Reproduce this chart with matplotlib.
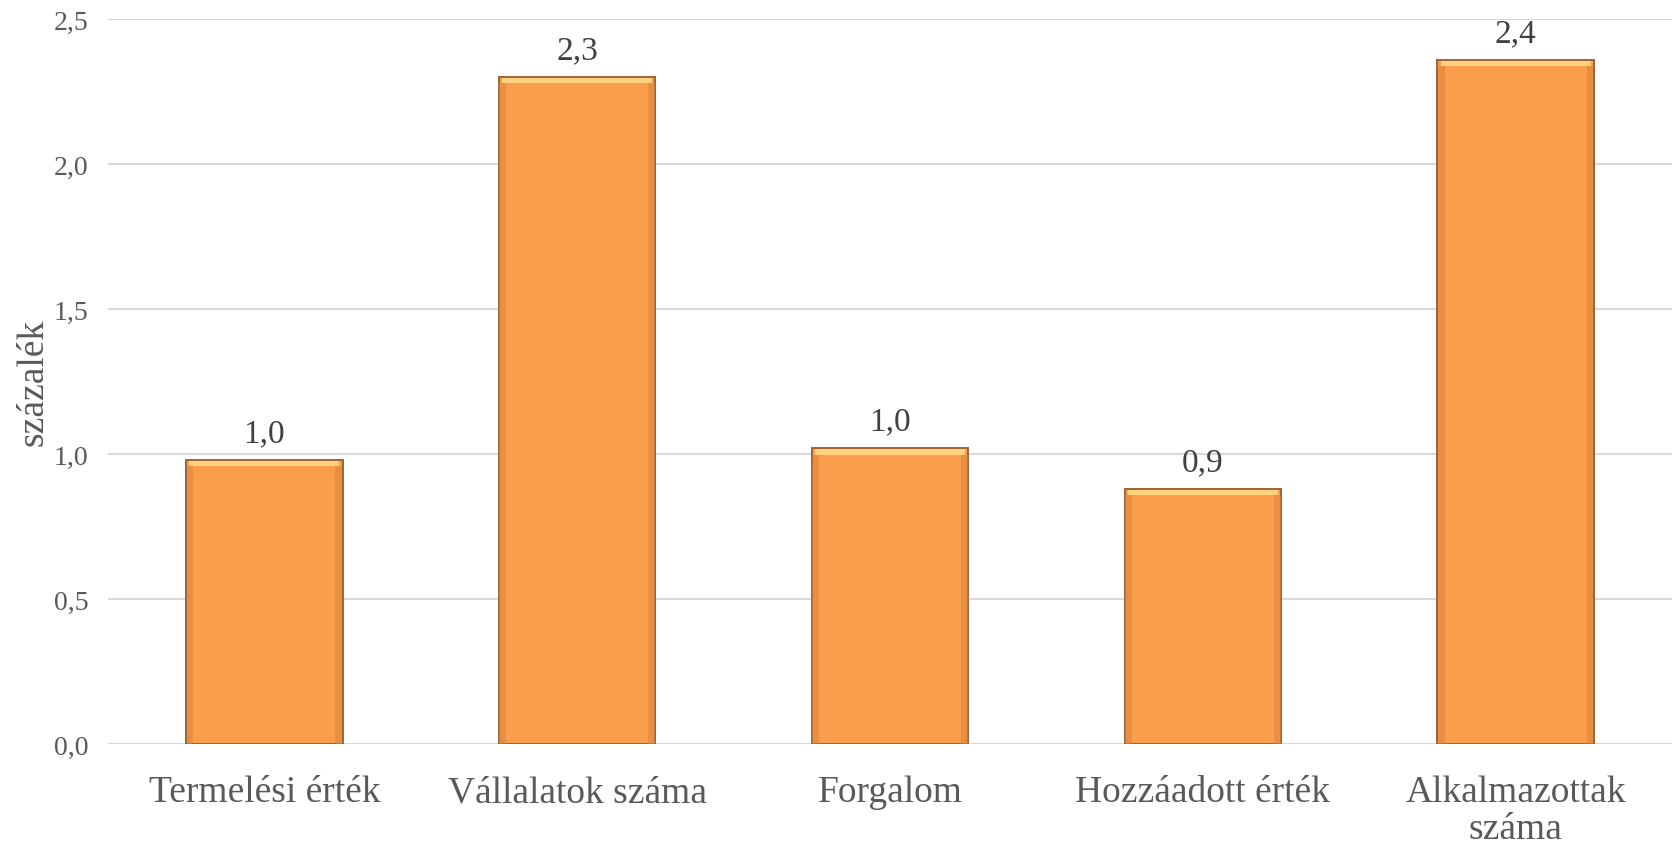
import matplotlib
matplotlib.use("Agg")
import matplotlib.pyplot as plt
import matplotlib.patheffects as pe

categories = ["Termelési érték", "Vállalatok száma", "Forgalom", "Hozzáadott érték", "Alkalmazottak\nszáma"]
values = [0.98, 2.30, 1.02, 0.88, 2.36]
value_labels = ["1,0", "2,3", "1,0", "0,9", "2,4"]
yticks = [0.0, 0.5, 1.0, 1.5, 2.0, 2.5]
ytick_labels = ["0,0", "0,5", "1,0", "1,5", "2,0", "2,5"]

plt.rcParams['font.family'] = ['Liberation Serif', 'DejaVu Serif']

fig = plt.figure(figsize=(16.74, 8.45), dpi=100)
ax = fig.add_axes([108/1674, 1 - 745/845, (1672 - 108)/1674, (745 - 20)/845])

x = list(range(len(categories)))
width = 0.5

ax.set_axisbelow(True)
ax.yaxis.grid(True, color='#D9D9D9', linewidth=1.5)

bars = ax.bar(x, values, width=width, color='#FB9E4C', edgecolor='#9C6438',
              linewidth=1.4, zorder=3)
for b in bars:
    b.set_path_effects([pe.SimplePatchShadow(offset=(0, -1.5), shadow_rgbFace='#666666', alpha=0.45),
                        pe.Normal()])
# top highlight strip (bevel effect)
hl = 0.018
ax.bar(x, [hl] * len(values), bottom=[v - hl - 0.004 for v in values], width=width * 0.96,
       color='#FDD27C', linewidth=0, zorder=4)
# inner side shading
ax.bar([xi - width / 2 + 0.012 for xi in x], [v - hl - 0.004 for v in values], width=0.022,
       color='#D9843E', linewidth=0, zorder=4, alpha=0.55)
ax.bar([xi + width / 2 - 0.012 for xi in x], [v - hl - 0.004 for v in values], width=0.022,
       color='#D9843E', linewidth=0, zorder=4, alpha=0.55)

for xi, v, lab in zip(x, values, value_labels):
    ax.annotate(lab, (xi, v), xytext=(0, 13.5), textcoords='offset points',
                ha='center', va='baseline', fontsize=24, color='#404040')

ax.set_xlim(-0.5, len(categories) - 0.5)
ax.set_ylim(0, 2.5)
ax.set_yticks(yticks)
ax.set_yticklabels(ytick_labels, fontsize=20, color='#595959')
ax.set_xticks(x)
ax.set_xticklabels(categories, fontsize=27, color='#595959', linespacing=1.1)
ax.tick_params(axis='both', length=0)
ax.tick_params(axis='y', pad=14)
ax.tick_params(axis='x', pad=22)

for s in ax.spines.values():
    s.set_visible(False)

fig.text(33/1674, 1 - 382/845, "százalék", rotation=90, ha='center', va='center',
         fontsize=27, color='#595959')

fig.savefig("out.png", dpi=100)
